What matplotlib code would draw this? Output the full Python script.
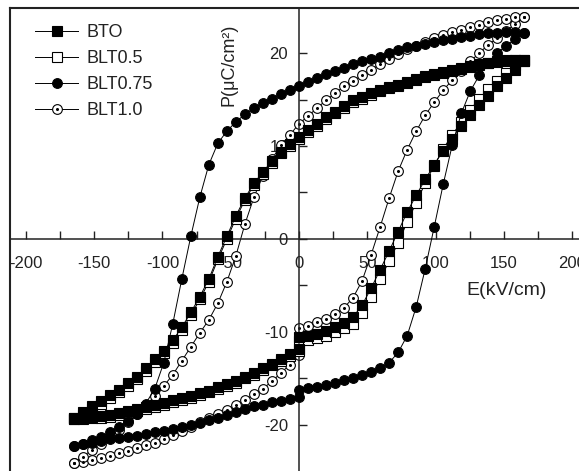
import matplotlib
matplotlib.use('Agg')
import matplotlib.pyplot as plt
from matplotlib.ticker import MultipleLocator
from matplotlib.legend_handler import HandlerTuple

plt.rcParams['font.family'] = ['Liberation Sans', 'DejaVu Sans']
plt.rcParams['axes.unicode_minus'] = False

# field values (kV/cm), upper branch and lower branch (lower has the jump at 0)
E_up = [-165, -158.4, -151.8, -145.2, -138.6, -132, -125.4, -118.8, -112.2, -105.6,
        -99, -92.4, -85.8, -79.2, -72.6, -66, -59.4, -52.8, -46.2, -39.6,
        -33, -26.4, -19.8, -13.2, -6.6, 0, 6.6, 13.2, 19.8, 26.4,
        33, 39.6, 46.2, 52.8, 59.4, 66, 72.6, 79.2, 85.8, 92.4,
        99, 105.6, 112.2, 118.8, 125.4, 132, 138.6, 145.2, 151.8, 158.4, 165]
E_low = [-165, -158.4, -151.8, -145.2, -138.6, -132, -125.4, -118.8, -112.2, -105.6,
         -99, -92.4, -85.8, -79.2, -72.6, -66, -59.4, -52.8, -46.2, -39.6,
         -33, -26.4, -19.8, -13.2, -6.6, 0, 0, 6.6, 13.2, 19.8, 26.4,
         33, 39.6, 46.2, 52.8, 59.4, 66, 72.6, 79.2, 85.8, 92.4,
         99, 105.6, 112.2, 118.8, 125.4, 132, 138.6, 145.2, 151.8, 158.4, 165]

bto_up = [-19.2, -18.6, -18.0, -17.4, -16.8, -16.2, -15.5, -14.8, -13.9, -12.9,
          -12.0, -10.9, -9.5, -7.9, -6.2, -4.3, -1.9, 0.3, 2.5, 4.4,
          6.0, 7.2, 8.4, 9.4, 10.2, 11.0, 11.7, 12.4, 13.1, 13.7,
          14.3, 14.9, 15.3, 15.7, 16.0, 16.3, 16.6, 16.9, 17.2, 17.5,
          17.7, 18.0, 18.2, 18.4, 18.6, 18.8, 18.9, 19.1, 19.2, 19.2, 19.1]
bto_low = [-19.2, -19.2, -19.1, -19.0, -18.9, -18.7, -18.5, -18.3, -18.1, -17.9,
           -17.6, -17.3, -17.1, -16.9, -16.6, -16.3, -15.9, -15.6, -15.3, -14.8,
           -14.4, -13.9, -13.4, -12.9, -12.4, -11.8, -10.5, -10.4, -10.2, -9.9, -9.5,
           -9.0, -8.4, -7.1, -5.3, -3.3, -1.3, 0.8, 2.9, 4.7, 6.4,
           8.0, 9.5, 10.8, 12.1, 13.3, 14.4, 15.4, 16.4, 17.3, 18.2, 19.1]

blt05_up = [-19.4, -18.9, -18.3, -17.7, -17.1, -16.5, -15.8, -15.1, -14.2, -13.2,
            -12.3, -11.2, -9.8, -8.2, -6.5, -4.6, -2.2, 0.0, 2.2, 4.2,
            5.8, 7.0, 8.2, 9.2, 10.0, 10.8, 11.5, 12.2, 12.9, 13.5,
            14.1, 14.7, 15.1, 15.5, 15.9, 16.2, 16.5, 16.8, 17.1, 17.4,
            17.6, 17.9, 18.1, 18.3, 18.5, 18.7, 18.9, 19.0, 19.1, 19.2, 19.2]
blt05_low = [-19.4, -19.4, -19.3, -19.2, -19.1, -18.9, -18.7, -18.5, -18.3, -18.1,
             -17.8, -17.5, -17.3, -17.1, -16.8, -16.5, -16.1, -15.8, -15.5, -15.0,
             -14.6, -14.1, -13.6, -13.1, -12.6, -12.0, -11.0, -10.9, -10.7, -10.4, -10.0,
             -9.6, -9.1, -8.0, -6.2, -4.3, -2.4, -0.4, 1.8, 3.9, 6.0,
             7.9, 9.7, 11.2, 12.6, 13.9, 15.1, 16.1, 17.0, 17.9, 18.7, 19.2]

blt075_up = [-22.3, -22.0, -21.6, -21.3, -20.8, -20.2, -19.6, -18.8, -17.7, -16.1,
             -13.3, -9.1, -4.3, 0.3, 4.5, 8.0, 10.3, 11.6, 12.6, 13.4,
             14.1, 14.6, 15.1, 15.6, 16.0, 16.5, 16.9, 17.3, 17.7, 18.1,
             18.4, 18.8, 19.1, 19.4, 19.6, 20.0, 20.3, 20.6, 20.8, 21.0,
             21.2, 21.4, 21.5, 21.7, 21.8, 22.0, 22.1, 22.2, 22.3, 22.3, 22.2]
blt075_low = [-22.3, -22.1, -21.9, -21.7, -21.5, -21.4, -21.3, -21.2, -21.0, -20.8,
              -20.6, -20.4, -20.2, -20.0, -19.8, -19.5, -19.2, -18.9, -18.6, -18.3,
              -18.0, -17.8, -17.5, -17.4, -17.2, -17.0, -16.2, -16.0, -15.9, -15.7, -15.5,
              -15.2, -14.9, -14.6, -14.3, -13.9, -13.3, -12.2, -10.4, -7.3, -3.2,
              1.3, 5.9, 10.1, 13.5, 15.9, 17.6, 18.9, 20.0, 20.8, 21.5, 22.2]

blt10_up = [-24.1, -23.4, -22.7, -22.0, -21.3, -20.5, -19.7, -18.8, -17.9, -16.9,
            -15.8, -14.6, -13.1, -11.6, -10.1, -8.7, -6.9, -4.6, -1.8, 1.6,
            4.5, 6.8, 8.6, 10.1, 11.2, 12.4, 13.2, 14.1, 14.9, 15.7,
            16.4, 17.0, 17.6, 18.2, 18.8, 19.4, 19.9, 20.4, 20.8, 21.2,
            21.6, 21.9, 22.3, 22.5, 22.8, 23.0, 23.3, 23.5, 23.7, 23.9, 23.9]
blt10_low = [-24.1, -24.0, -23.8, -23.5, -23.3, -23.0, -22.8, -22.5, -22.2, -21.9,
             -21.5, -21.1, -20.7, -20.2, -19.7, -19.2, -18.8, -18.4, -17.9, -17.3,
             -16.7, -16.1, -15.3, -14.4, -13.5, -12.5, -9.6, -9.4, -8.9, -8.6, -8.1,
             -7.4, -6.3, -4.5, -1.7, 1.3, 4.4, 7.3, 9.6, 11.6, 13.3,
             14.7, 16.0, 17.1, 18.1, 19.1, 20.0, 20.9, 21.6, 22.4, 23.1, 23.9]


def loop(ax, p_low, p_up, marker, face, z):
    kw = dict(color='k', lw=0.7, marker=marker, ms=7, mfc=face, mec='k', mew=0.8, zorder=z)
    line, = ax.plot(E_low, p_low, **kw)
    ax.plot(E_up, p_up, **kw)
    return line


fig = plt.figure(figsize=(5.79, 4.71), dpi=100)
rect = [10/579, 0, 569/579, 463/471]
ax = fig.add_axes(rect)
ax.patch.set_visible(False)

h10 = loop(ax, blt10_low, blt10_up, 'o', 'white', 2)
d10, = ax.plot(E_low, blt10_low, ls='none', marker='o', ms=1.2, color='k', zorder=2.1)
ax.plot(E_up, blt10_up, ls='none', marker='o', ms=1.2, color='k', zorder=2.1)
h05 = loop(ax, blt05_low, blt05_up, 's', 'white', 3)
hbto = loop(ax, bto_low, bto_up, 's', 'k', 4)
h075 = loop(ax, blt075_low, blt075_up, 'o', 'k', 5)

ax.set_xlim(-211.6, 205)
ax.set_ylim(-24.95, 24.84)

ax.spines['left'].set_position(('data', 0))
ax.spines['bottom'].set_position(('data', 0))
ax.spines['right'].set_visible(False)
ax.spines['top'].set_visible(False)
for s in ['left', 'bottom']:
    ax.spines[s].set_linewidth(1.1)
    ax.spines[s].set_color('#222222')

ax.xaxis.set_major_locator(MultipleLocator(50))
ax.xaxis.set_minor_locator(MultipleLocator(25))
ax.yaxis.set_major_locator(MultipleLocator(10))
ax.yaxis.set_minor_locator(MultipleLocator(5))
ax.tick_params(which='both', direction='in', length=6, width=1, colors='#222222',
               labelcolor='#222222', labelsize=12)
ax.tick_params(axis='x', pad=12)
ax.tick_params(axis='y', pad=8)

# outer frame (top and left)
fr = fig.add_axes(rect, zorder=-1)
fr.set_xticks([])
fr.set_yticks([])
fr.spines['right'].set_visible(False)
fr.spines['bottom'].set_visible(False)
for s in ['left', 'top']:
    fr.spines[s].set_linewidth(1.5)
    fr.spines[s].set_color('#222222')

ax.text(152, -5.5, 'E(kV/cm)', fontsize=14, ha='center', va='center', color='#222222')
ax.text(-51, 18.7, 'P(\u03bcC/cm\u00b2)', fontsize=13, rotation=90,
        ha='center', va='center', color='#222222')

leg = ax.legend([hbto, h05, h075, (h10, d10)], ['BTO', 'BLT0.5', 'BLT0.75', 'BLT1.0'],
                handler_map={tuple: HandlerTuple(ndivide=1)},
                loc='upper left', bbox_to_anchor=(0.044, 0.965), frameon=False,
                fontsize=13, handlelength=2.4, handletextpad=0.45,
                labelspacing=0.5, borderpad=0, borderaxespad=0)
for t in leg.get_texts():
    t.set_color('#222222')

fig.savefig('out.png', dpi=100)
